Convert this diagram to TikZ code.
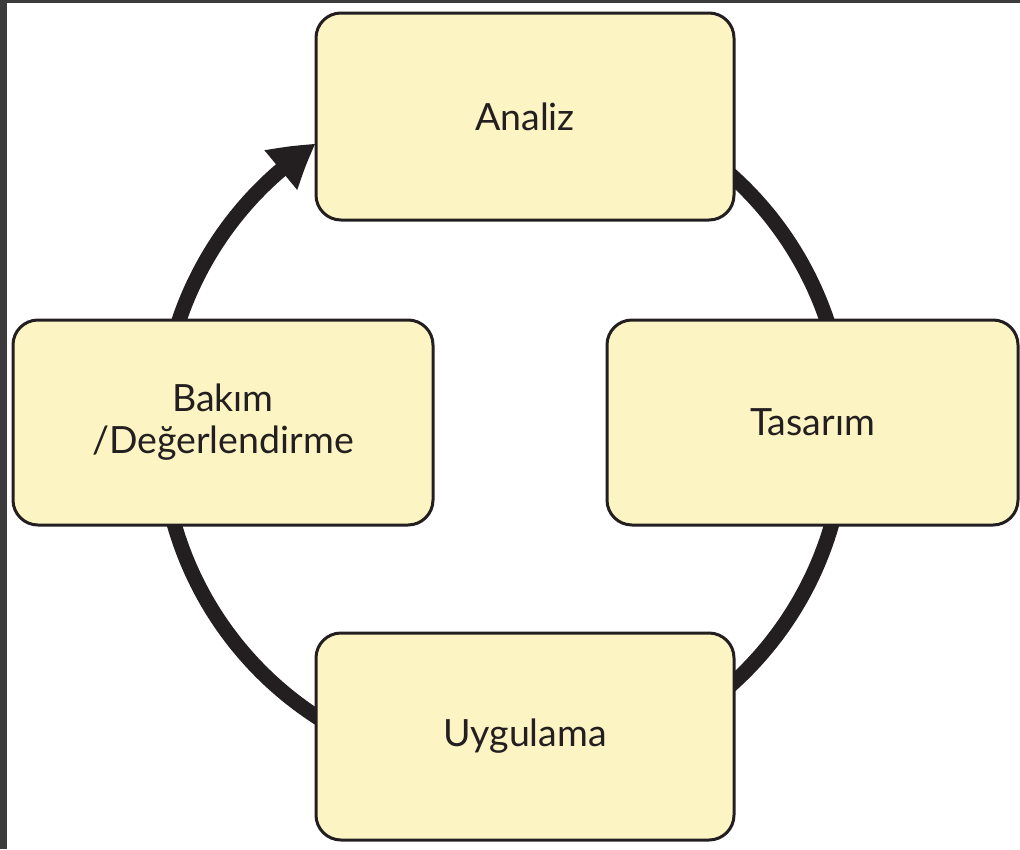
\documentclass[tikz,border=0pt]{standalone}
\usepackage{fontspec}
\setmainfont{Lato}
\usetikzlibrary{arrows.meta,bending}
\definecolor{boxfill}{RGB}{253,244,196}
\definecolor{ink}{RGB}{35,31,32}
\definecolor{frameclr}{RGB}{60,60,60}
\tikzset{
  phasebox/.style={draw=ink, line width=3pt, fill=boxfill, rounded corners=25pt,
    minimum height=205pt, align=center, inner sep=0pt,
    font=\fontsize{37.5}{42}\selectfont, text=ink},
  cycleline/.style={draw=ink, line width=15pt},
}
\begin{document}
\begin{tikzpicture}[x=1pt,y=1pt]
\useasboundingbox (0,0) rectangle (1020,-849);
\fill[white] (0,0) rectangle (1020,-849);
\fill[frameclr] (0,0) rectangle (7,-849);
\fill[frameclr] (0,0) rectangle (1020,-2.5);
\coordinate (c) at (503,-430);
% arcs (behind boxes)
\draw[cycleline] ([shift={(55:342)}]c) arc[start angle=55, end angle=10, radius=342];
\draw[cycleline] ([shift={(-10:342)}]c) arc[start angle=-10, end angle=-55, radius=342];
\draw[cycleline] ([shift={(240:342)}]c) arc[start angle=240, end angle=190, radius=342];
\draw[cycleline, -{Triangle[length=44pt,width=48pt,bend]}] ([shift={(170:342)}]c) arc[start angle=170, end angle=123.2, radius=342];
% boxes
\node[phasebox, minimum width=418pt, minimum height=207pt] (analiz) at (525,-116.5) {Analiz};
\node[phasebox, minimum width=411pt] (tasarim) at (812.5,-422.5) {Tasarım};
\node[phasebox, minimum width=418pt, minimum height=207pt] (uygulama) at (525,-736.5) {Uygulama};
\node[phasebox, minimum width=420pt] (bakim) at (223,-422.5) {Bakım\\/Değerlendirme};
\end{tikzpicture}
\end{document}
